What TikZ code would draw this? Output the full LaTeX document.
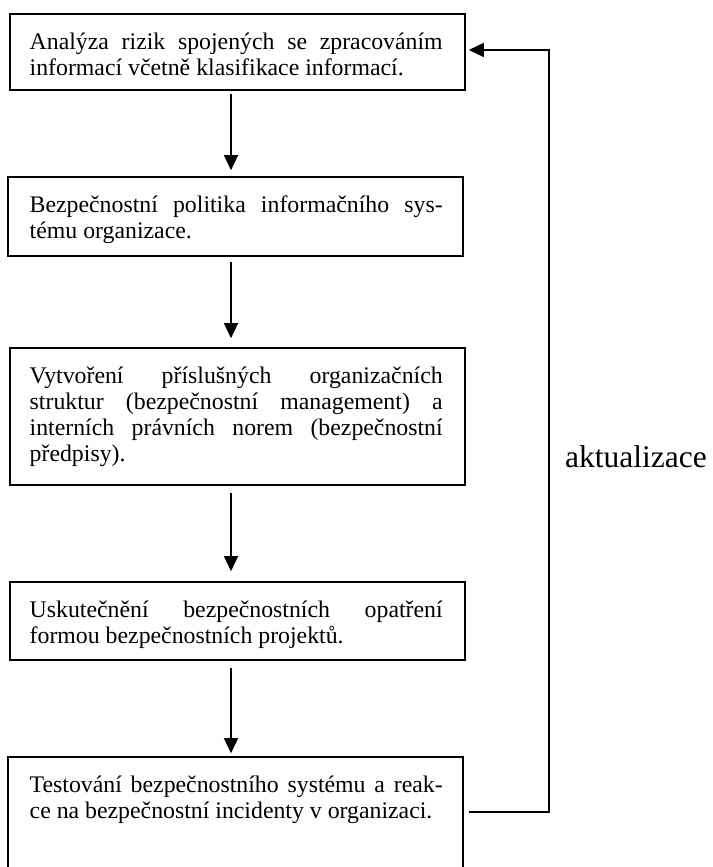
\documentclass[tikz,border=0pt]{standalone}
\usepackage{fontspec}
\setmainfont{Liberation Serif}
\usetikzlibrary{arrows.meta}
\hbadness=10000
% width of the justified text block inside every box
\newlength\tw \setlength\tw{413pt}
% natural, stretchable interword spaces (align=left fixes them otherwise)
\newcommand{\ns}{\spaceskip=0pt\xspaceskip=0pt\relax}
% one fully justified line
\newcommand{\jl}[1]{\makebox[\tw][s]{\ns #1}}

\begin{document}
\begin{tikzpicture}[x=1pt,y=-1pt,
  box/.style={draw, line width=1.6pt, rectangle, inner sep=0pt, minimum width=455pt},
  txt/.style={anchor=north west, inner sep=0pt, text width=\tw, align=left,
              font=\fontsize{23.8}{26}\selectfont},
  tip/.style={-{Triangle[length=15pt,width=14pt]}},
  flow/.style={line width=1.5pt, tip},
]
\useasboundingbox (0,0) rectangle (712,867);

% boxes of the process
\node[box, minimum height=76pt]  (b1) at (237.5,52)    {};
\node[box, minimum height=79pt]  (b2) at (235.5,216.5) {};
\node[box, minimum height=137pt] (b3) at (237.5,416.5) {};
\node[box, minimum height=78pt]  (b4) at (237.5,621)   {};
\node[box, minimum height=123pt] (b5) at (235.5,818.5) {};

% texts of the boxes
\node[txt] (t1) at (29.5,30.8) {\ns\strut\jl{Analýza rizik spojených se zpracováním}\\
  informací včetně klasifikace informací.};
\node[txt] (t2) at (29.5,193.8) {\ns\strut\jl{Bezpečnostní politika informačního sys-}\\
  tému organizace.};
\node[txt] (t3) at (29.5,364.8) {\ns\strut\jl{Vytvoření příslušných organizačních}\\
  \jl{struktur (bezpečnostní management) a}\\
  \jl{interních právních norem (bezpečnostní}\\
  předpisy).};
\node[txt] (t4) at (29.5,598.8) {\ns\strut\jl{Uskutečnění bezpečnostních opatření}\\
  formou bezpečnostních projektů.};
\node[txt] (t5) at (29.5,773.8) {\ns\strut\jl{Testování bezpečnostního systému a reak-}\\
  ce na bezpečnostní incidenty v organizaci.};

% main flow
\coordinate (ax) at (231,0);
\draw[flow, shorten <=3pt, shorten >=6pt]  (b1.south -| ax) -- (b2.north -| ax);
\draw[flow, shorten <=5pt, shorten >=9pt]  (b2.south -| ax) -- (b3.north -| ax);
\draw[flow, shorten <=7pt, shorten >=10pt] (b3.south -| ax) -- (b4.north -| ax);
\draw[flow, shorten <=7pt, shorten >=3pt]  (b4.south -| ax) -- (b5.north -| ax);

% feedback loop
\coordinate (fb) at (549,812);
\coordinate (ft) at (549,50);
\draw[flow, shorten <=5pt, shorten >=3pt]
  (b5.east |- fb) -- (fb) -- (ft) -- (b1.east |- ft);
\node[anchor=base west, inner sep=0pt, font=\fontsize{31.5}{36}\selectfont]
  (lab) at (565,467) {aktualizace};
\end{tikzpicture}
\end{document}
